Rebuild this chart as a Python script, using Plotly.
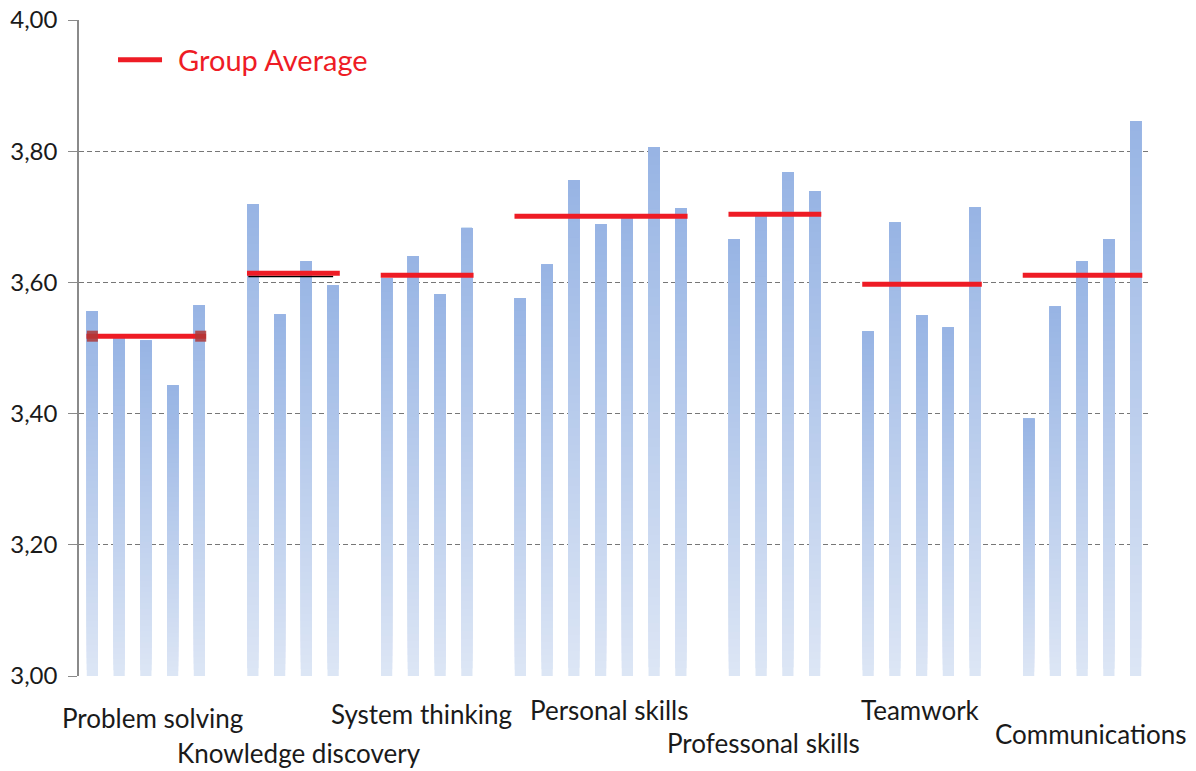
import plotly.graph_objects as go

# ---------------- data ----------------
categories = ["Problem solving", "Knowledge discovery", "System thinking",
              "Personal skills", "Professonal skills", "Teamwork", "Communications"]
problem_solving = [3.556, 3.515, 3.511, 3.443, 3.565]
knowledge_discovery = [3.719, 3.551, 3.632, 3.595]
system_thinking = [3.606, 3.640, 3.582, 3.683]
personal_skills = [3.576, 3.627, 3.756, 3.689, 3.698, 3.806, 3.713]
professonal_skills = [3.666, 3.702, 3.768, 3.739]
teamwork = [3.525, 3.691, 3.550, 3.531, 3.714]
communications = [3.392, 3.563, 3.632, 3.666, 3.846]
group_average = [3.518, 3.614, 3.611, 3.701, 3.704, 3.597, 3.611]
kd_black_line = 3.609
y_ticks = [3.0, 3.2, 3.4, 3.6, 3.8, 4.0]
y_min, y_max = 3.0, 4.0

groups = [problem_solving, knowledge_discovery, system_thinking,
          personal_skills, professonal_skills, teamwork, communications]

# ---------------- style ----------------
label_y_px = [718, 753, 714, 710, 743, 710, 734]   # label centre (page px)
label_dx_px = [7, 6, -5, 9, -11, -1, 9]
bottom_rgb = (221, 230, 245)
top_rgb = (151, 180, 228)
N_SEG = 60
RED = "#ee1c25"
FONT = "Lato"

# slot positions: one empty slot between groups
xs, vals, group_slots = [], [], []
pos = 0
for g in groups:
    slots = []
    for v in g:
        xs.append(pos)
        vals.append(v)
        slots.append(pos)
        pos += 1
    group_slots.append(slots)
    pos += 1

fig = go.Figure()

# gradient bars: overlaid segments, each running from its base up to the value
for k in range(N_SEG):
    t = (k + 0.5) / N_SEG
    c = tuple(round(bottom_rgb[i] + (top_rgb[i] - bottom_rgb[i]) * t) for i in range(3))
    fig.add_trace(go.Bar(
        x=xs,
        y=[(v - y_min) * (N_SEG - k) / N_SEG for v in vals],
        base=[y_min + (v - y_min) * k / N_SEG for v in vals],
        width=0.42,
        marker=dict(color="rgb(%d,%d,%d)" % c, line=dict(width=0)),
        showlegend=False, hoverinfo="skip",
    ))

# black line beneath KD average
kd = group_slots[1]
fig.add_trace(go.Scatter(
    x=[kd[0] - 0.17, kd[-1] + 0.0], y=[kd_black_line, kd_black_line],
    mode="lines", line=dict(color="black", width=1.6),
    showlegend=False, hoverinfo="skip"))

# group average lines
lx, ly = [], []
for slots, a in zip(group_slots, group_average):
    lx += [slots[0] - 0.22, slots[-1] + 0.25, None]
    ly += [a, a, None]
fig.add_trace(go.Scatter(
    x=lx, y=ly, mode="lines", name="\u00a0\u2009Group Average",
    line=dict(color=RED, width=5), hoverinfo="skip"))

# darker caps on Problem solving average
ps = group_slots[0]
fig.add_trace(go.Scatter(
    x=[ps[0], ps[-1] + 0.05], y=[group_average[0], group_average[0]],
    mode="markers", marker=dict(symbol="square", size=11, color="rgba(175,55,55,0.85)",
                                line=dict(width=0)),
    showlegend=False, hoverinfo="skip"))

# category labels
for slots, name, py, dx in zip(group_slots, categories, label_y_px, label_dx_px):
    cx = (slots[0] + slots[-1]) / 2
    fig.add_annotation(
        x=cx, xref="x", y=0, yref="paper", yanchor="middle",
        yshift=-(py - 676), xshift=dx, text=name, showarrow=False,
        font=dict(family=FONT, size=26, color="#1a1a1a"))

fig.update_layout(
    width=1196, height=771,
    margin=dict(l=79, r=47, t=20, b=95, autoexpand=False),
    paper_bgcolor="white", plot_bgcolor="white",
    barmode="overlay",
    separators=", ",
    font=dict(family=FONT, size=19, color="#1a1a1a"),
    showlegend=True,
    legend=dict(x=0.0318, y=0.939, xanchor="left", yanchor="middle",
                font=dict(family=FONT, size=29, color=RED),
                bgcolor="rgba(0,0,0,0)", itemwidth=44),
    xaxis=dict(range=[-0.5, pos - 1 - 0.5], showticklabels=False, showgrid=False,
               zeroline=False, showline=False, ticks="", automargin=False),
    yaxis=dict(range=[y_min, y_max], tickvals=y_ticks, tickformat=".2f",
               showgrid=True, gridcolor="#777777", griddash="5px,3px", gridwidth=1.2,
               showline=True, linecolor="#8a8a8a", linewidth=1.5,
               ticks="outside", ticklen=9, tickcolor="#8a8a8a",
               zeroline=False, automargin=False, ticklabeloverflow="allow",
               ticklabelstandoff=6,
               tickfont=dict(family=FONT, size=24, color="#1a1a1a")),
)

fig.write_html("out.html", config={"displayModeBar": False},
               post_script="document.body.style.margin='0';")
